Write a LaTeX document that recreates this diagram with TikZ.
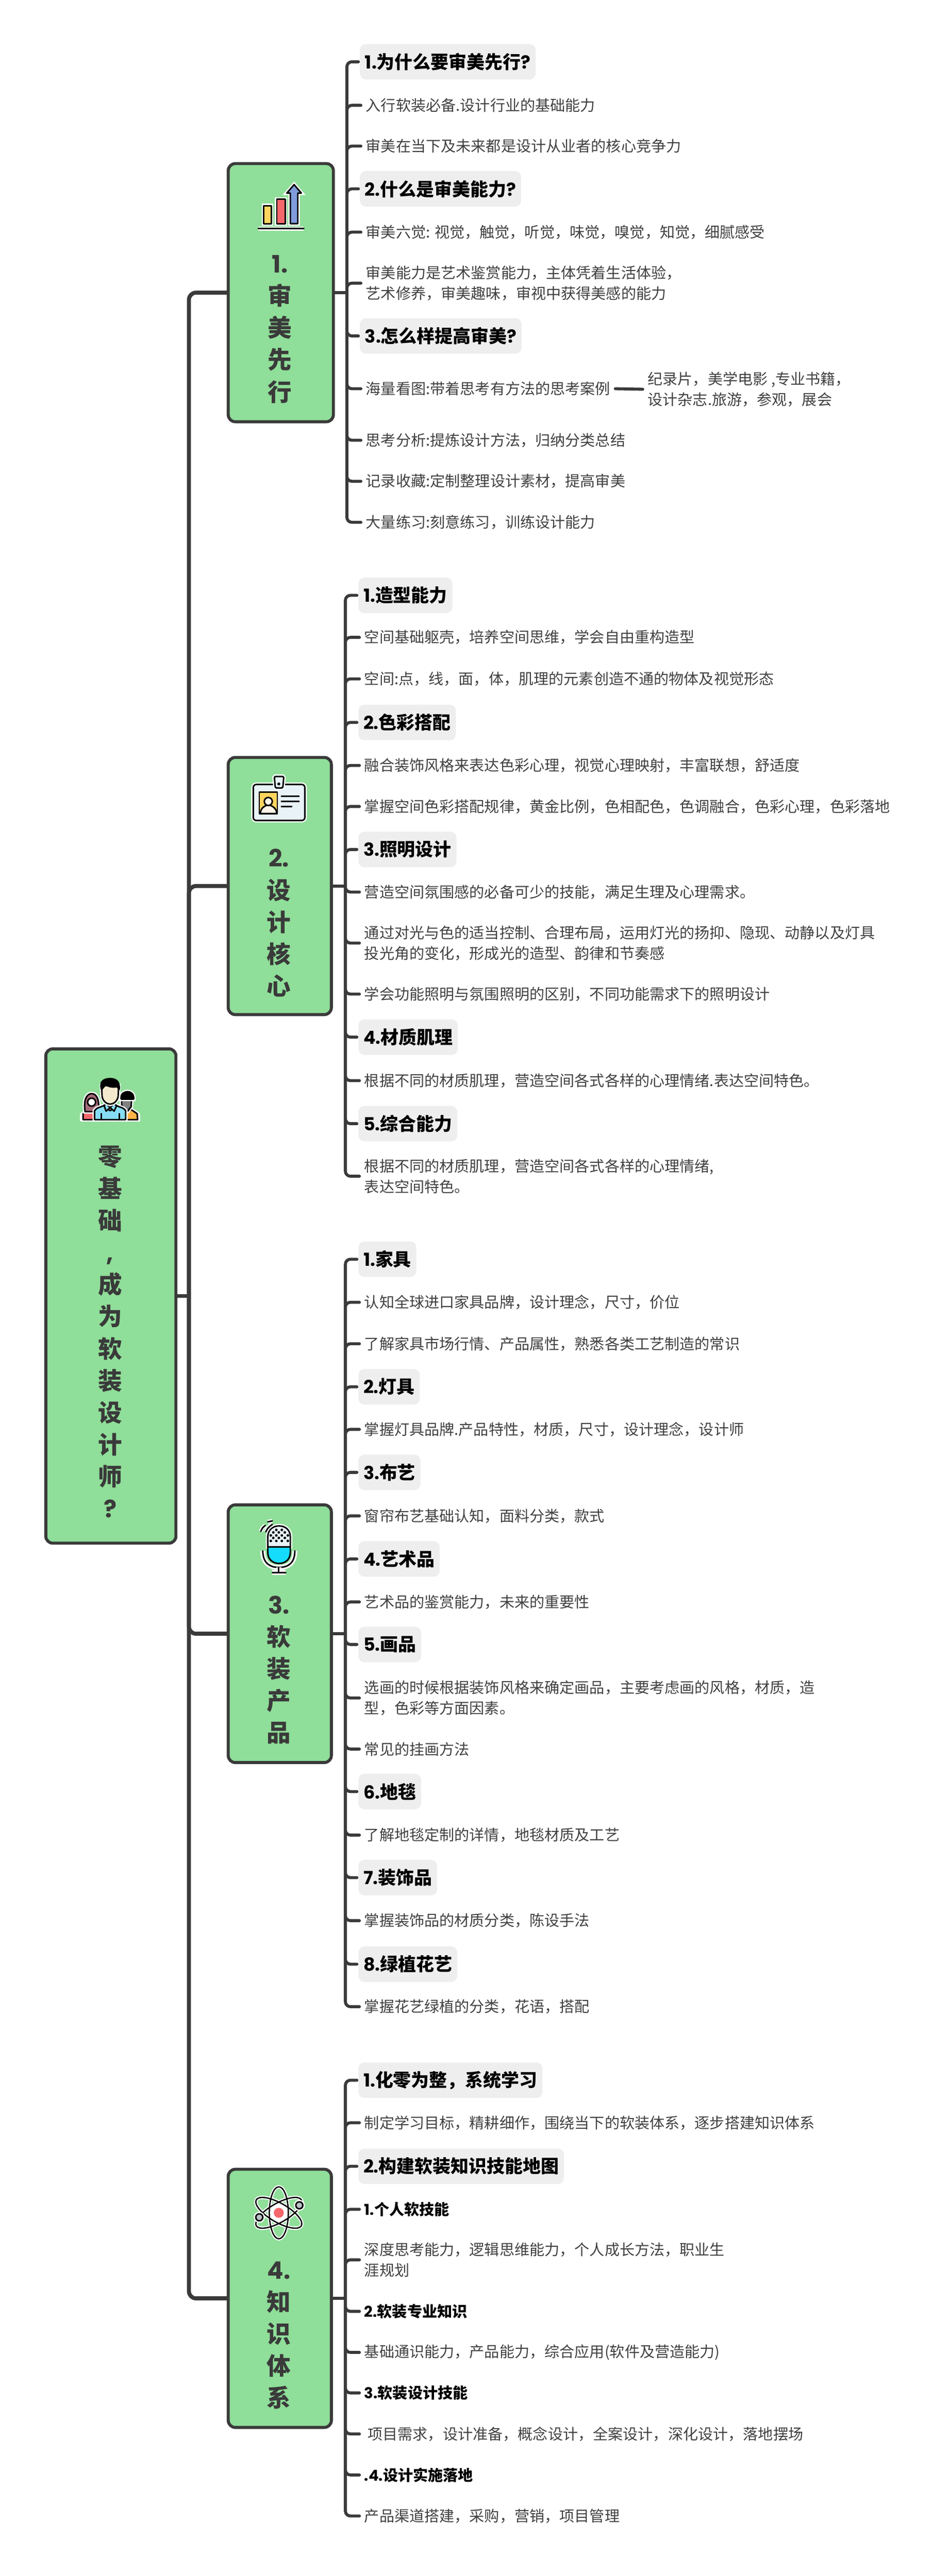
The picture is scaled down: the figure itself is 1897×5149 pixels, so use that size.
\documentclass[tikz,border=0pt]{standalone}
\usepackage{fontspec}
\setmainfont{Noto Sans CJK SC}
\newfontfamily\latinb{Poppins}[BoldFont={Poppins Bold}]
\usepackage{tikz}
\definecolor{boxgreen}{HTML}{8FDE99}
\definecolor{darkline}{HTML}{3A3A3A}
\definecolor{headgray}{HTML}{EEEEEE}
\definecolor{paleblue}{HTML}{E8F2F7}
\definecolor{skin}{HTML}{F3E9CF}
\definecolor{iconred}{HTML}{F4686C}
\definecolor{iconyellow}{HTML}{FFD45E}
\definecolor{iconblue}{HTML}{7F9BDB}
\definecolor{iconcyan}{HTML}{14DCFA}
\definecolor{iconsky}{HTML}{86DDF3}
\definecolor{iconorange}{HTML}{FFB347}
\definecolor{iconhair}{HTML}{A66B7A}
\newcommand{\nm}[1]{{\latinb\bfseries #1}}
\tikzset{
  secbox/.style={draw=darkline,fill=boxgreen,line width=3pt,rounded corners=7pt,outer sep=0pt},
  boxtext/.style={align=center,text=darkline,font=\fontsize{24}{32}\selectfont\bfseries,inner sep=0pt},
  headbox/.style={anchor=west,fill=headgray,rounded corners=6pt,minimum height=35.5pt,inner xsep=5pt,inner ysep=0pt,outer sep=0pt,font=\fontsize{18}{22}\selectfont\bfseries,text=black},
  itembox/.style={anchor=west,align=left,inner xsep=5pt,inner ysep=0pt,outer sep=0pt,font=\fontsize{15}{20.5}\selectfont,text=black!75},
  boldbox/.style={itembox,font=\fontsize{15}{20.5}\selectfont\bfseries,text=black},
  link/.style={draw=darkline,line width=3pt,line cap=round,rounded corners=5pt},
  headlink/.style={link,shorten >=1.5pt},
  rootlink/.style={draw=darkline,line width=4pt,rounded corners=7pt},
  icon/.style={draw=black,line width=1.5pt,line join=round,line cap=round},
  halo/.style={icon,preaction={draw=white,line width=4pt}}
}
\begin{document}
\begin{tikzpicture}[x=0.5pt,y=-0.5pt]
\useasboundingbox (0,0) rectangle (1897,5149);

% boxes
\node[secbox,minimum width=130pt,minimum height=494pt] (root) at (221.5,2590.5) {};
\node[secbox,minimum width=105pt,minimum height=258pt] (sec1) at (561,585) {};
\node[secbox,minimum width=103pt,minimum height=257pt] (sec2) at (559,1771) {};
\node[secbox,minimum width=103pt,minimum height=257.5pt] (sec3) at (559,3265.5) {};
\node[secbox,minimum width=103pt,minimum height=258pt] (sec4) at (559,4594) {};

\node[boxtext] (roottext) at (220,2662) {零\\基\\础\\{\latinb ,}\\成\\为\\软\\装\\设\\计\\师\\\nm{?}};
\node[boxtext] (sec1text) at (559,658) {\nm{1.}\\审\\美\\先\\行};
\node[boxtext] (sec2text) at (557,1845) {\nm{2.}\\设\\计\\核\\心};
\node[boxtext] (sec3text) at (557,3338) {\nm{3.}\\软\\装\\产\\品};
\node[boxtext] (sec4text) at (557,4668) {\nm{4.}\\知\\识\\体\\系};

% section 1
\node[headbox] (a1) at (719,123.5) {\nm{1.}为什么要审美先行\nm{?}};
\node[itembox] (a2) at (721,210.5) {入行软装必备.设计行业的基础能力};
\node[itembox] (a3) at (721,292) {审美在当下及未来都是设计从业者的核心竞争力};
\node[headbox] (a4) at (719,377.5) {\nm{2.}什么是审美能力\nm{?}};
\node[itembox] (a5) at (721,464) {审美六觉: 视觉，触觉，听觉，味觉，嗅觉，知觉，细腻感受};
\node[itembox] (a6) at (721,566) {审美能力是艺术鉴赏能力，主体凭着生活体验，\\艺术修养，审美趣味，审视中获得美感的能力};
\node[headbox] (a7) at (719,671.5) {\nm{3.}怎么样提高审美\nm{?}};
\node[itembox] (a8) at (721,777) {海量看图:带着思考有方法的思考案例};
\node[itembox] (a8s) at (1284,778) {纪录片，美学电影 ,专业书籍，\\设计杂志.旅游，参观，展会};
\node[itembox] (a9) at (721,880) {思考分析:提炼设计方法，归纳分类总结};
\node[itembox] (a10) at (721,962) {记录收藏:定制整理设计素材，提高审美};
\node[itembox] (a11) at (721,1044) {大量练习:刻意练习，训练设计能力};

% section 2
\node[headbox] (b1) at (716,1190) {\nm{1.}造型能力};
\node[itembox] (b2) at (718,1274) {空间基础躯壳，培养空间思维，学会自由重构造型};
\node[itembox] (b3) at (718,1357) {空间:点，线，面，体，肌理的元素创造不通的物体及视觉形态};
\node[headbox] (b4) at (716,1444) {\nm{2.}色彩搭配};
\node[itembox] (b5) at (718,1530) {融合装饰风格来表达色彩心理，视觉心理映射，丰富联想，舒适度};
\node[itembox] (b6) at (718,1612) {掌握空间色彩搭配规律，黄金比例，色相配色，色调融合，色彩心理，色彩落地};
\node[headbox] (b7) at (716,1698) {\nm{3.}照明设计};
\node[itembox] (b8) at (718,1783) {营造空间氛围感的必备可少的技能，满足生理及心理需求。};
\node[itembox] (b9) at (718,1885) {通过对光与色的适当控制、合理布局，运用灯光的扬抑、隐现、动静以及灯具\\投光角的变化，形成光的造型、韵律和节奏感};
\node[itembox] (b10) at (718,1987) {学会功能照明与氛围照明的区别，不同功能需求下的照明设计};
\node[headbox] (b11) at (716,2073) {\nm{4.}材质肌理};
\node[itembox] (b12) at (718,2160) {根据不同的材质肌理，营造空间各式各样的心理情绪.表达空间特色。};
\node[headbox] (b13) at (716,2246) {\nm{5.}综合能力};
\node[itembox] (b14) at (718,2351) {根据不同的材质肌理，营造空间各式各样的心理情绪,\\表达空间特色。};

% section 3
\node[headbox] (c1) at (716,2517) {\nm{1.}家具};
\node[itembox] (c2) at (718,2603) {认知全球进口家具品牌，设计理念，尺寸，价位};
\node[itembox] (c3) at (718,2686) {了解家具市场行情、产品属性，熟悉各类工艺制造的常识};
\node[headbox] (c4) at (716,2772) {\nm{2.}灯具};
\node[itembox] (c5) at (718,2857) {掌握灯具品牌.产品特性，材质，尺寸，设计理念，设计师};
\node[headbox] (c6) at (716,2943) {\nm{3.}布艺};
\node[itembox] (c7) at (718,3030) {窗帘布艺基础认知，面料分类，款式};
\node[headbox] (c8) at (716,3116) {\nm{4.}艺术品};
\node[itembox] (c9) at (718,3202) {艺术品的鉴赏能力，未来的重要性};
\node[headbox] (c10) at (716,3287) {\nm{5.}画品};
\node[itembox] (c11) at (718,3394) {选画的时候根据装饰风格来确定画品，主要考虑画的风格，材质，造\\型，色彩等方面因素。};
\node[itembox] (c12) at (718,3496) {常见的挂画方法};
\node[headbox] (c13) at (716,3581) {\nm{6.}地毯};
\node[itembox] (c14) at (718,3668) {了解地毯定制的详情，地毯材质及工艺};
\node[headbox] (c15) at (716,3753) {\nm{7.}装饰品};
\node[itembox] (c16) at (718,3839) {掌握装饰品的材质分类，陈设手法};
\node[headbox] (c17) at (716,3926) {\nm{8.}绿植花艺};
\node[itembox] (c18) at (718,4011) {掌握花艺绿植的分类，花语，搭配};

% section 4
\node[headbox] (d1) at (716,4158) {\nm{1.}化零为整，系统学习};
\node[itembox] (d2) at (718,4243) {制定学习目标，精耕细作，围绕当下的软装体系，逐步搭建知识体系};
\node[headbox] (d3) at (716,4330) {\nm{2.}构建软装知识技能地图};
\node[boldbox] (d4) at (718,4416) {\nm{1.}个人软技能};
\node[itembox] (d5) at (718,4517) {深度思考能力，逻辑思维能力，个人成长方法，职业生\\涯规划};
\node[boldbox] (d6) at (718,4620) {\nm{2.}软装专业知识};
\node[itembox] (d7) at (718,4702) {基础通识能力，产品能力，综合应用(软件及营造能力)};
\node[boldbox] (d8) at (718,4783) {\nm{3.}软装设计技能};
\node[itembox] (d9) at (718,4865) {\ 项目需求，设计准备，概念设计，全案设计，深化设计，落地摆场};
\node[boldbox] (d10) at (718,4947) {\nm{.4.}设计实施落地};
\node[itembox] (d11) at (718,5029) {产品渠道搭建，采购，营销，项目管理};

% connectors
\coordinate (rootfork) at (377.5,2590.5);
\coordinate (fork1) at (693,585);
\coordinate (fork2) at (690,1771);
\coordinate (fork3) at (690,3265.5);
\coordinate (fork4) at (690,4594);
\draw[rootlink] (root.east) -- (rootfork);
\foreach \s in {sec1,sec2,sec3,sec4}
  \draw[rootlink] (rootfork) |- (\s.west);
\foreach \s/\f in {sec1/fork1,sec2/fork2,sec3/fork3,sec4/fork4}
  \draw[link,line cap=butt] (\s.east) -- (\f);
\foreach \n in {a1,a4,a7}
  \draw[headlink] (fork1) |- (\n.west);
\foreach \n in {a2,a3,a5,a6,a8,a9,a10,a11}
  \draw[link] (fork1) |- (\n.west);
\draw[link] (a8.east) -- (a8s.west);
\foreach \n in {b1,b4,b7,b11,b13}
  \draw[headlink] (fork2) |- (\n.west);
\foreach \n in {b2,b3,b5,b6,b8,b9,b10,b12,b14}
  \draw[link] (fork2) |- (\n.west);
\foreach \n in {c1,c4,c6,c8,c10,c13,c15,c17}
  \draw[headlink] (fork3) |- (\n.west);
\foreach \n in {c2,c3,c5,c7,c9,c11,c12,c14,c16,c18}
  \draw[link] (fork3) |- (\n.west);
\foreach \n in {d1,d3}
  \draw[headlink] (fork4) |- (\n.west);
\foreach \n in {d2,d4,d5,d6,d7,d8,d9,d10,d11}
  \draw[link] (fork4) |- (\n.west);

% icon: people
\fill[white] (160,2225) -- (160,2241) -- (280,2241) -- (280,2225) -- cycle;
\filldraw[halo,fill=iconred] (166,2238) -- (166,2226) -- (176,2219) -- (190,2219) -- (195,2238) -- cycle;
\filldraw[halo,fill=iconhair] (170,2222) .. controls (166,2195) and (175,2186) .. (183,2186) .. controls (192,2186) and (199,2195) .. (197,2222) -- cycle;
\filldraw[icon,fill=white] (183,2203) circle (8);
\filldraw[halo,fill=iconorange] (252,2238) -- (252,2222) -- (262,2218) -- (274,2226) -- (275,2238) -- cycle;
\filldraw[halo,fill=black!50] (243,2195) -- (263,2195) -- (262,2212) -- (255,2221) -- (248,2220) -- (243,2208) -- cycle;
\filldraw[halo,fill=black] (242,2197) .. controls (240,2185) and (250,2182) .. (255,2182) .. controls (262,2182) and (268,2187) .. (267,2197) -- cycle;
\filldraw[halo,fill=iconsky] (189,2238) -- (189,2220) .. controls (192,2214) and (202,2213) .. (209,2209) -- (231,2209) .. controls (238,2213) and (248,2214) .. (251,2220) -- (251,2238) -- cycle;
\filldraw[icon,fill=skin] (210,2195) -- (230,2195) -- (230,2214) -- (220,2220) -- (210,2214) -- cycle;
\filldraw[icon,fill=iconsky] (208,2210) -- (212,2206) -- (220,2214) -- (228,2206) -- (233,2210) -- (228,2221) -- (220,2214) -- (212,2221) -- cycle;
\filldraw[halo,fill=skin] (203,2170) -- (237,2170) -- (236,2192) .. controls (234,2202) and (226,2207) .. (220,2207) .. controls (214,2207) and (206,2202) .. (204,2192) -- cycle;
\filldraw[icon,fill=black] (203,2178) .. controls (198,2163) and (206,2156) .. (220,2156) .. controls (232,2156) and (240,2162) .. (238,2178) -- (234,2172) .. controls (226,2174) and (216,2172) .. (211,2168) -- cycle;
\draw[icon] (202,2238) -- (202,2226) (238,2238) -- (238,2226);

% icon: chart
\filldraw[halo,fill=iconyellow] (527,411) rectangle (542,447);
\filldraw[halo,fill=iconred] (553,398) rectangle (570,447);
\filldraw[halo,fill=iconblue] (580,447) -- (580,386) -- (573,386) -- (587.5,369) -- (602,386) -- (595,386) -- (595,447) -- cycle;
\draw[halo] (516,457) -- (607,457);

% icon: badge
\filldraw[halo,fill=paleblue,rounded corners=3pt] (506,1568) rectangle (609,1640);
\filldraw[halo,fill=paleblue,rounded corners=1pt] (548,1552) -- (567,1552) -- (565,1575) -- (550,1575) -- cycle;
\fill (557,1567) circle (3);
\filldraw[icon,fill=iconyellow] (518,1583) rectangle (554,1627);
\filldraw[icon,fill=skin!50!white] (520,1626) .. controls (521,1614) and (529,1611) .. (536,1608) .. controls (543,1611) and (552,1614) .. (553,1626) -- cycle;
\filldraw[icon,fill=skin!50!white] (536,1602) circle (8);
\draw[icon,line cap=butt] (561,1592) -- (598,1592) (561,1602) -- (598,1602) (561,1612) -- (584,1612);

% icon: microphone
\draw[icon,preaction={draw=white,line width=5pt}] (525,3100) .. controls (525,3125) and (540,3133) .. (557,3133) .. controls (575,3133) and (589,3125) .. (589,3100);
\draw[icon,preaction={draw=white,line width=5pt}] (557,3133) -- (557,3143) (544,3143) -- (571,3143);
\filldraw[halo,fill=paleblue] (535,3092) -- (535,3072) .. controls (535,3058) and (545,3050) .. (557.5,3050) .. controls (570,3050) and (580,3058) .. (580,3072) -- (580,3092) -- cycle;
\filldraw[icon,fill=iconcyan] (535,3092) -- (535,3103) .. controls (535,3117) and (545,3125) .. (557.5,3125) .. controls (570,3125) and (580,3117) .. (580,3103) -- (580,3092) -- cycle;
\foreach \x/\y in {552/3058,563/3058,546/3063,557/3063,569/3063,541/3069,552/3069,563/3069,575/3069,546/3074,557/3074,569/3074,541/3080,552/3080,563/3080,575/3080}
  \fill (\x,\y) circle (2.6);
\draw[halo] (521,3061) .. controls (524,3054) .. (530,3049);
\draw[halo] (535,3042) -- (544,3040);
\draw[halo] (531,3062) .. controls (535,3054) .. (544,3047);

% icon: atom
\fill[white] (557,4423) circle (17);
\foreach \a in {0,60,-60}
  \draw[white,line width=3.5pt,rotate around={\a:(557,4423)}] (557,4423) ellipse (19 and 52);
\foreach \a in {0,60,-60}
  \draw[icon,line width=1.3pt,rotate around={\a:(557,4423)}] (557,4423) ellipse (19 and 52);
\fill[iconred] (557,4423) circle (10);
\filldraw[halo,fill=black!20!paleblue] (598,4408) circle (7);
\filldraw[halo,fill=black!20!paleblue] (518,4432) circle (7);
\end{tikzpicture}
\end{document}
